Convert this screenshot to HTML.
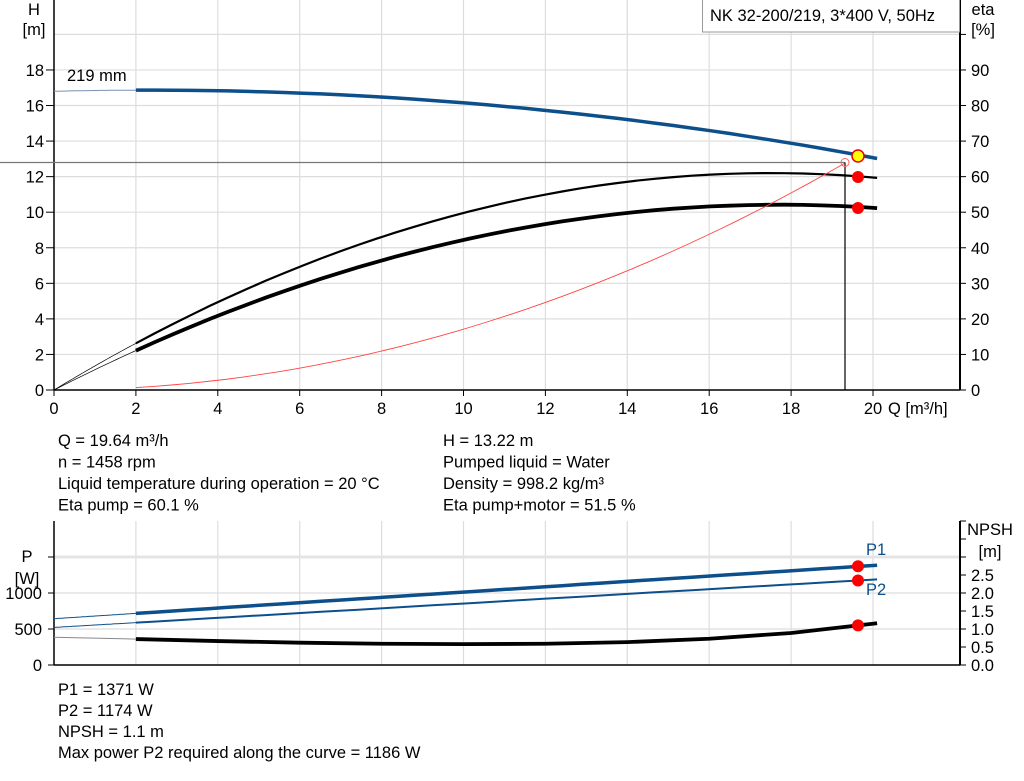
<!DOCTYPE html>
<html><head><meta charset="utf-8"><style>
body{margin:0;background:#fff;}
svg{display:block;font-family:"Liberation Sans",sans-serif;}
</style></head><body>
<svg id="s" width="1024" height="781" xmlns="http://www.w3.org/2000/svg" font-size="16.5" fill="#000"></svg>
<script>
const s=document.getElementById('s');let h='';
const X=q=>54+40.95*q;
const YH=v=>390-17.78*v, YE=e=>390-3.556*e, YP=p=>665-0.072*p, YN=n=>665-36*n;
function line(x1,y1,x2,y2,c,w){h+=`<line x1="${x1}" y1="${y1}" x2="${x2}" y2="${y2}" stroke="${c}" stroke-width="${w}"/>`;}
function txt(x,y,t,a,c,fs){h+=`<text x="${x}" y="${y}" text-anchor="${a||'start'}" fill="${c||'#000'}" ${fs?'font-size="'+fs+'"':''}>${t}</text>`;}
function curve(f,q0,q1,yf,c,w){let p=[];for(let i=0;i<=40;i++){let q=q0+(q1-q0)*i/40;p.push(X(q).toFixed(1)+','+yf(f(q)).toFixed(1));}h+=`<polyline points="${p.join(' ')}" fill="none" stroke="${c}" stroke-width="${w}" stroke-linecap="butt"/>`;}
for(let q=2;q<=20;q+=2)line(X(q),0,X(q),390,'#ddd',1.2);
for(let v=2;v<=20;v+=2)line(54,YH(v),960,YH(v),'#ddd',1.2);
line(54,0,54,390,'#000',1.5);line(960,0,960,390,'#000',2);line(54,390,960,390,'#000',1.5);
for(let v=0;v<=18;v+=2){line(46,YH(v),54,YH(v),'#000',1);txt(44,YH(v)+6,v,'end');}
for(let e=0;e<=100;e+=10){line(960,YE(e),966,YE(e),'#000',1);if(e<100)txt(971,YE(e)+6,e);}
for(let q=0;q<=20;q+=2){line(X(q),390,X(q),396,'#000',1);txt(X(q),414,q,'middle');}
txt(888,414,'Q [m³/h]');
txt(34,15,'H','middle');txt(34,35,'[m]','middle');txt(983,15,'eta','middle');txt(983,35,'[%]','middle');
h+=`<rect x="702.5" y="-1" width="257" height="33" fill="#fff" stroke="#999"/>`;txt(710,21,'NK 32-200/219, 3*400 V, 50Hz');
txt(67,81,'219 mm');
line(0,162.5,845,162.5,'#777',1.2);line(845,162.5,845,390,'#000',1.2);
const H=q=>16.8+0.0567*q-0.01217*q*q;
curve(H,0,2,YH,'#7a90b0',1);curve(H,2,20.1,YH,'#0d4f8b',3.5);
const E1=q=>6.97*q-0.1991*q*q, E2=q=>5.878*q-0.1658*q*q;
curve(E1,0,2,YE,'#000',0.7);curve(E1,2,20.1,YE,'#000',2.2);
curve(E2,0,2,YE,'#000',0.7);curve(E2,2,20.1,YE,'#000',3.8);
curve(q=>0.0342*q*q,2,19.3,YH,'#f44',0.9);
h+=`<circle cx="845" cy="162.5" r="4" fill="none" stroke="#f66" stroke-width="1"/>`;
h+=`<circle cx="858" cy="156" r="6" fill="#ff0" stroke="#e00" stroke-width="1.5"/>`;
h+=`<circle cx="858" cy="177" r="6" fill="#f00"/><circle cx="858" cy="208" r="6" fill="#f00"/>`;
[['Q = 19.64 m³/h','H = 13.22 m'],['n = 1458 rpm','Pumped liquid = Water'],['Liquid temperature during operation = 20 °C','Density = 998.2 kg/m³'],['Eta pump = 60.1 %','Eta pump+motor = 51.5 %']].forEach((r,i)=>{txt(58,446+i*21.5,r[0]);txt(443,446+i*21.5,r[1]);});
for(let q=2;q<=20;q+=2)line(X(q),521,X(q),665,'#ddd',1.2);
line(54,YP(500),960,YP(500),'#ddd',1.2);line(54,YP(1000),960,YP(1000),'#ddd',1.2);line(54,YP(1500),960,YP(1500),'#e4e4e4',3);
line(54,521,54,665,'#000',1.5);line(960,521,960,665,'#000',2);line(54,665,960,665,'#000',1.5);
[0,500,1000,1500].forEach(p=>{line(48,YP(p),54,YP(p),'#000',1);if(p<1500)txt(42,YP(p)+6,p,'end');});
for(let n=0;n<=4;n+=0.5){line(960,YN(n),966,YN(n),'#000',1);if(n<=2.5)txt(971,YN(n)+6,n.toFixed(1));}
txt(27,562,'P','middle');txt(27,584,'[W]','middle');txt(990,535,'NPSH','middle');txt(990,557,'[m]','middle');
const P1=q=>643+37*q, P2=q=>522+33.2*q;
curve(P1,0,2,YP,'#0d4f8b',1);curve(P1,2,20.1,YP,'#0d4f8b',3.5);
curve(P2,0,2,YP,'#0d4f8b',1);curve(P2,2,20.1,YP,'#0d4f8b',2);
const np=[[0,.77],[2,.72],[4,.665],[6,.62],[8,.59],[10,.58],[12,.59],[14,.635],[16,.73],[18,.89],[19.64,1.1],[20.1,1.16]];
let pa=np.slice(0,2).map(a=>X(a[0])+','+YN(a[1])).join(' ');h+=`<polyline points="${pa}" fill="none" stroke="#888" stroke-width="1"/>`;
pa=np.slice(1).map(a=>X(a[0])+','+YN(a[1])).join(' ');h+=`<polyline points="${pa}" fill="none" stroke="#000" stroke-width="3.8" stroke-linejoin="round"/>`;
h+=`<circle cx="858" cy="${YP(1371)}" r="6" fill="#f00"/><circle cx="858" cy="${YP(1174)}" r="6" fill="#f00"/><circle cx="858" cy="${YN(1.1)}" r="6" fill="#f00"/>`;
txt(866,555,'P1','start','#0d4f8b');txt(866,595,'P2','start','#0d4f8b');
['P1 = 1371 W','P2 = 1174 W','NPSH = 1.1 m','Max power P2 required along the curve = 1186 W'].forEach((t,i)=>txt(58,695+i*21,t));
s.innerHTML=h;
</script>
</body></html>
